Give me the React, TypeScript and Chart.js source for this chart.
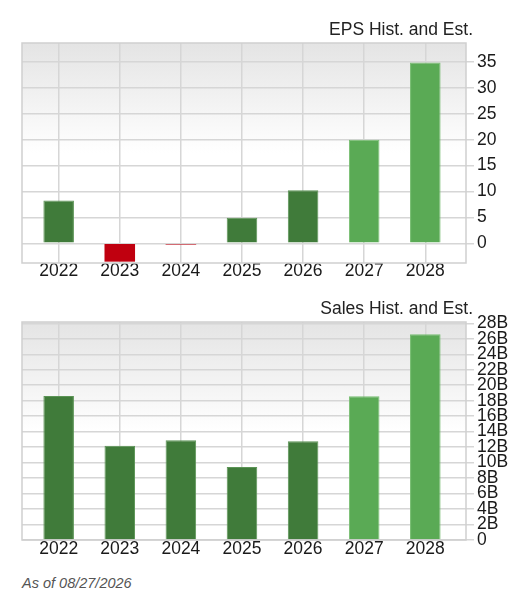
import React, { useEffect, useRef } from "react";
import { Chart, registerables } from "chart.js";

Chart.register(...registerables);

// ---- data ----
const years = [2022, 2023, 2024, 2025, 2026, 2027, 2028];
const isEstimate = [false, false, false, false, false, true, true];
const epsValues = [8.25, -3.55, -0.25, 4.95, 10.25, 20.0, 34.9];
const salesValues = [18.62, 12.18, 12.88, 9.43, 12.75, 18.58, 26.58]; // billions
const epsTicks = [0, 5, 10, 15, 20, 25, 30, 35];
const salesTicks = [0, 2, 4, 6, 8, 10, 12, 14, 16, 18, 20, 22, 24, 26, 28];

const epsTitle = "EPS Hist. and Est.";
const salesTitle = "Sales Hist. and Est.";
const footnote = "As of 08/27/2026";

const DARK = "#407b3a";
const LIGHT = "#5aaa55";
const RED = "#c0000f";
const DARK_EDGE = "#5b9455";
const LIGHT_EDGE = "#78be72";
const GRID = "#d6d6d6";
const FONT = "'Liberation Sans', Arial, Helvetica, sans-serif";
const TEXT_SIZE = 17.5;

const plotFrame = {
  id: "plotFrame",
  beforeDraw(chart: any) {
    const { ctx, chartArea: a } = chart;
    const g = ctx.createLinearGradient(0, a.top, 0, a.top + a.height * 0.5);
    g.addColorStop(0, "#e4e4e4");
    g.addColorStop(1, "#ffffff");
    ctx.save();
    ctx.fillStyle = g;
    ctx.fillRect(a.left, a.top, a.width, a.height);
    ctx.restore();
  },
  beforeDatasetsDraw(chart: any) {
    const { ctx, chartArea: a } = chart;
    ctx.save();
    ctx.strokeStyle = "#cfcfcf";
    ctx.lineWidth = 1.5;
    ctx.strokeRect(a.left, a.top, a.width, a.height);
    ctx.restore();
  },
};

function makeConfig(
  values: number[],
  tickValues: number[],
  fmt: (v: number) => string,
  yMin: number,
  yMax: number,
  padTop: number,
  padBottom: number,
  xLabelPad: number
): any {
  const bg = values.map((v, i) => (v < 0 ? RED : isEstimate[i] ? LIGHT : DARK));
  const edge = values.map((v, i) => (v < 0 ? RED : isEstimate[i] ? LIGHT_EDGE : DARK_EDGE));
  const bw = values.map((v) => (v < 0 ? 0 : 1));
  return {
    type: "bar",
    data: {
      datasets: [
        {
          data: years.map((y, i) => ({ x: y, y: values[i] })),
          backgroundColor: bg,
          borderColor: edge,
          borderWidth: bw,
          barPercentage: 0.5,
          categoryPercentage: 1.0,
        },
      ],
    },
    options: {
      responsive: false,
      animation: false,
      devicePixelRatio: 1,
      layout: { padding: { left: 22, right: 0, top: padTop, bottom: padBottom } },
      plugins: {
        legend: { display: false },
        tooltip: { enabled: false },
        title: { display: false },
      },
      scales: {
        x: {
          type: "linear",
          min: 2021.4,
          max: 2028.666,
          offset: false,
          grid: { offset: false, color: GRID, lineWidth: 1.5, drawTicks: false },
          border: { display: false },
          afterBuildTicks: (axis: any) => {
            axis.ticks = years.map((y) => ({ value: y }));
          },
          afterFit: (axis: any) => {
            axis.height = 20;
          },
          ticks: {
            autoSkip: false,
            maxRotation: 0,
            padding: xLabelPad,
            color: "#1a1a1a",
            font: { family: FONT, size: TEXT_SIZE, lineHeight: 1 },
            callback: (v: any) => String(v),
          },
        },
        y: {
          type: "linear",
          position: "right",
          min: yMin,
          max: yMax,
          grid: { color: GRID, lineWidth: 1.5, drawTicks: true, tickLength: 8 },
          border: { display: false },
          afterBuildTicks: (axis: any) => {
            axis.ticks = tickValues.map((v) => ({ value: v }));
          },
          afterFit: (axis: any) => {
            axis.width = 57;
          },
          ticks: {
            autoSkip: false,
            padding: 3,
            color: "#1a1a1a",
            font: { family: FONT, size: TEXT_SIZE, lineHeight: 1 },
            callback: (v: any) => fmt(Number(v)),
          },
        },
      },
    },
    plugins: [plotFrame],
  };
}

function BarPanel(props: {
  values: number[];
  ticks: number[];
  fmt: (v: number) => string;
  yMin: number;
  yMax: number;
  padTop: number;
  padBottom: number;
  xLabelPad: number;
  height: number;
  top: number;
}) {
  const ref = useRef<HTMLCanvasElement | null>(null);
  useEffect(() => {
    if (!ref.current) return;
    const chart = new Chart(
      ref.current,
      makeConfig(
        props.values,
        props.ticks,
        props.fmt,
        props.yMin,
        props.yMax,
        props.padTop,
        props.padBottom,
        props.xLabelPad
      )
    );
    return () => chart.destroy();
  }, []);
  return (
    <canvas
      ref={ref}
      width={523}
      height={props.height}
      style={{ position: "absolute", left: 0, top: props.top, width: 523, height: props.height }}
    />
  );
}

export default function App() {
  return (
    <div
      style={{
        position: "absolute",
        left: 0,
        top: 0,
        width: 523,
        height: 611,
        background: "#ffffff",
        fontFamily: FONT,
        overflow: "hidden",
      }}
    >
      <BarPanel
        values={epsValues}
        ticks={epsTicks}
        fmt={(v) => String(v)}
        yMin={-3.81}
        yMax={38.68}
        padTop={43}
        padBottom={7}
        xLabelPad={-1}
        height={290}
        top={0}
      />
      <BarPanel
        values={salesValues}
        ticks={salesTicks}
        fmt={(v) => (v === 0 ? "0" : v + "B")}
        yMin={0}
        yMax={28.17}
        padTop={32}
        padBottom={10}
        xLabelPad={0}
        height={280}
        top={290}
      />
      <div
        style={{
          position: "absolute",
          right: 50,
          top: 21,
          fontSize: TEXT_SIZE,
          lineHeight: TEXT_SIZE + "px",
          color: "#222",
          whiteSpace: "nowrap",
        }}
      >
        {epsTitle}
      </div>
      <div
        style={{
          position: "absolute",
          right: 50,
          top: 299.5,
          fontSize: TEXT_SIZE,
          lineHeight: TEXT_SIZE + "px",
          color: "#222",
          whiteSpace: "nowrap",
        }}
      >
        {salesTitle}
      </div>
      <div
        style={{
          position: "absolute",
          left: 22,
          top: 576,
          fontSize: 14.5,
          lineHeight: "14.5px",
          fontStyle: "italic",
          color: "#555",
          whiteSpace: "nowrap",
        }}
      >
        {footnote}
      </div>
    </div>
  );
}
